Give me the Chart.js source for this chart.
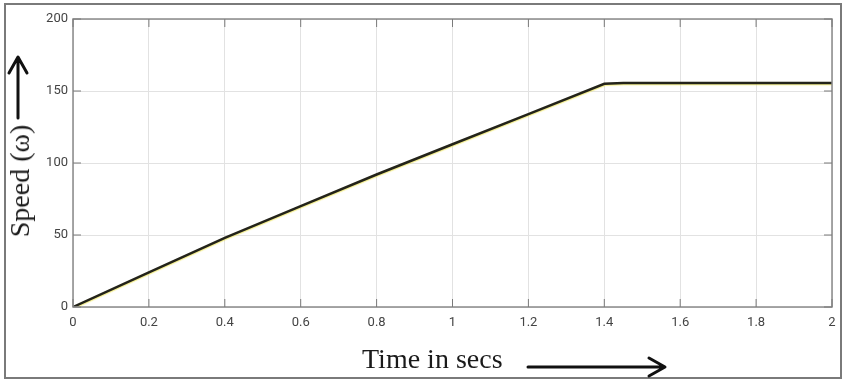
<!DOCTYPE html>
<html>
<head>
<meta charset="utf-8">
<script src="https://cdn.jsdelivr.net/npm/chart.js@4/dist/chart.umd.min.js"></script>
<style>
  body { margin: 0; background: #fff; }
  #wrap { position: relative; width: 845px; height: 382px; }
  #frame { position: absolute; left: 4px; top: 3px; width: 834px; height: 372px; border: 2px solid #7a7a7a; }
  #chart { position: absolute; left: 0; top: 0; }
  .title { position: absolute; font-family: "Liberation Serif", "DejaVu Serif", serif; font-size: 28px; color: #1a1a1a; white-space: nowrap; }
  #xTitle { left: 362px; top: 343px; }
  #yTitle { left: 20px; top: 181px; transform: translate(-50%, -50%) rotate(-90deg); }
</style>
</head>
<body>
<div id="wrap">
  <div id="frame"></div>
  <canvas id="chart" width="845" height="382"></canvas>
  <div class="title" id="xTitle">Time in secs</div>
  <div class="title" id="yTitle">Speed (ω)</div>
</div>
<script>
// speed curve
const timeValues = [0, 0.2, 0.4, 0.6, 0.8, 1.0, 1.2, 1.4, 1.45, 2.0];
const speedValues = [0, 24, 48, 70, 92, 113, 134, 155, 155.6, 155.6];

const xTickLabels = ['0', '0.2', '0.4', '0.6', '0.8', '1', '1.2', '1.4', '1.6', '1.8', '2'];
const yTickLabels = ['0', '50', '100', '150', '200'];

const points = timeValues.map((t, i) => ({ x: t, y: speedValues[i] }));

// box, inner tick marks and the two arrows
const decorPlugin = {
  id: 'decor',
  beforeDatasetDraw(chart) {
    const ctx = chart.ctx;
    ctx.save();
    ctx.shadowColor = 'rgba(235, 225, 60, 0.6)';
    ctx.shadowOffsetX = 0.5;
    ctx.shadowOffsetY = 1;
    ctx.shadowBlur = 1;
  },
  afterDatasetDraw(chart) {
    chart.ctx.restore();
  },
  afterDraw(chart) {
    const ctx = chart.ctx;
    const a = chart.chartArea;
    const xs = chart.scales.x, ys = chart.scales.y;
    ctx.save();
    ctx.strokeStyle = '#8a8a8a';
    ctx.lineWidth = 1.5;
    ctx.strokeRect(a.left, a.top, a.right - a.left, a.bottom - a.top);
    ctx.lineWidth = 1;
    ctx.strokeStyle = '#7a7a7a';
    ctx.beginPath();
    xs.ticks.forEach(t => {
      const px = xs.getPixelForValue(t.value);
      ctx.moveTo(px, a.bottom); ctx.lineTo(px, a.bottom - 8);
      ctx.moveTo(px, a.top); ctx.lineTo(px, a.top + 8);
    });
    ys.ticks.forEach(t => {
      const py = ys.getPixelForValue(t.value);
      ctx.moveTo(a.left, py); ctx.lineTo(a.left + 8, py);
      ctx.moveTo(a.right, py); ctx.lineTo(a.right - 8, py);
    });
    ctx.stroke();

    // arrows
    ctx.strokeStyle = '#111';
    ctx.lineWidth = 3;
    ctx.lineCap = 'round';
    ctx.lineJoin = 'round';
    ctx.beginPath();
    ctx.moveTo(528, 367); ctx.lineTo(664, 367);
    ctx.moveTo(649, 358); ctx.lineTo(665, 367); ctx.lineTo(649, 376);
    ctx.moveTo(18, 118); ctx.lineTo(18, 58);
    ctx.moveTo(9, 73); ctx.lineTo(18, 57); ctx.lineTo(27, 73);
    ctx.stroke();
    ctx.restore();
  }
};

new Chart(document.getElementById('chart'), {
  type: 'line',
  data: {
    datasets: [{
      data: points,
      borderColor: '#23231a',
      borderWidth: 2.5,
      pointRadius: 0,
      tension: 0,
      fill: false
    }]
  },
  options: {
    responsive: false,
    animation: false,
    layout: { padding: { top: 19, right: 13, left: 0, bottom: 0 } },
    plugins: { legend: { display: false }, tooltip: { enabled: false } },
    scales: {
      x: {
        type: 'linear',
        min: 0, max: 2,
        afterFit(s) { s.height = 75; },
        afterBuildTicks(s) { s.ticks = xTickLabels.map(l => ({ value: parseFloat(l) })); },
        ticks: {
          padding: 8,
          color: '#444',
          font: { family: '"Liberation Sans Narrow", "Roboto", sans-serif', size: 13 },
          callback: (v, i) => xTickLabels[i]
        },
        grid: { color: '#e2e2e2', drawTicks: false },
        border: { display: false }
      },
      y: {
        min: 0, max: 200,
        afterFit(s) { s.width = 73; },
        afterBuildTicks(s) { s.ticks = yTickLabels.map(l => ({ value: parseFloat(l) })); },
        ticks: {
          padding: 5,
          color: '#444',
          font: { family: '"Liberation Sans Narrow", "Roboto", sans-serif', size: 13 },
          callback: (v, i) => yTickLabels[i]
        },
        grid: { color: '#e2e2e2', drawTicks: false },
        border: { display: false }
      }
    }
  },
  plugins: [decorPlugin]
});
</script>
</body>
</html>
